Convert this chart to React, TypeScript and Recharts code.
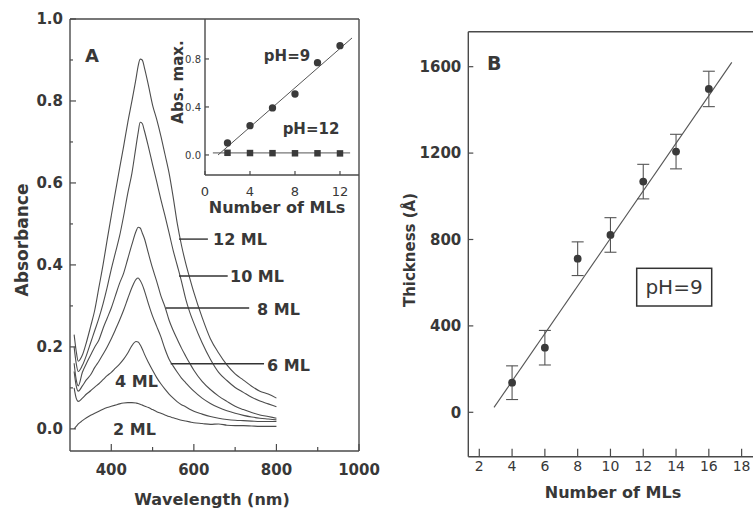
import React from 'react';
import {
  LineChart,
  Line,
  XAxis,
  YAxis,
  ReferenceLine,
  ComposedChart,
  Scatter,
  ErrorBar,
  ZAxis,
} from 'recharts';

// ---------- Panel A: absorbance spectra ----------
const wavelengths = [310, 315, 320, 330, 340, 350, 360, 370, 380, 390, 400, 410, 420, 430, 440, 450, 460, 465, 470, 475, 480, 490, 500, 510, 520, 530, 540, 550, 560, 570, 580, 590, 600, 620, 640, 660, 680, 700, 720, 740, 760, 780, 800];
const abs12 = [0.23, 0.19, 0.165, 0.18, 0.212, 0.25, 0.29, 0.345, 0.4, 0.461, 0.52, 0.578, 0.635, 0.69, 0.748, 0.8, 0.855, 0.885, 0.902, 0.9, 0.882, 0.838, 0.79, 0.755, 0.715, 0.67, 0.624, 0.565, 0.5, 0.448, 0.405, 0.368, 0.333, 0.272, 0.22, 0.185, 0.156, 0.134, 0.119, 0.104, 0.092, 0.085, 0.075];
const abs10 = [0.2, 0.16, 0.14, 0.155, 0.18, 0.21, 0.24, 0.27, 0.305, 0.345, 0.39, 0.43, 0.47, 0.52, 0.575, 0.624, 0.69, 0.722, 0.748, 0.745, 0.728, 0.688, 0.645, 0.603, 0.56, 0.52, 0.478, 0.435, 0.398, 0.36, 0.318, 0.285, 0.258, 0.21, 0.17, 0.138, 0.118, 0.101, 0.089, 0.077, 0.068, 0.061, 0.054];
const abs8 = [0.16, 0.12, 0.105, 0.138, 0.16, 0.18, 0.2, 0.217, 0.245, 0.27, 0.295, 0.325, 0.355, 0.38, 0.415, 0.45, 0.482, 0.492, 0.49, 0.478, 0.465, 0.428, 0.392, 0.36, 0.325, 0.298, 0.265, 0.24, 0.218, 0.197, 0.178, 0.16, 0.143, 0.116, 0.096, 0.08, 0.067, 0.055, 0.047, 0.04, 0.034, 0.03, 0.026];
const abs6 = [0.14, 0.105, 0.092, 0.105, 0.12, 0.132, 0.15, 0.165, 0.182, 0.2, 0.22, 0.242, 0.265, 0.29, 0.318, 0.345, 0.365, 0.368, 0.362, 0.352, 0.338, 0.305, 0.275, 0.25, 0.225, 0.195, 0.17, 0.153, 0.138, 0.124, 0.113, 0.102, 0.092, 0.075, 0.062, 0.052, 0.044, 0.038, 0.033, 0.029, 0.026, 0.024, 0.022];
const abs4 = [0.1, 0.075, 0.067, 0.075, 0.085, 0.093, 0.102, 0.11, 0.12, 0.13, 0.138, 0.148, 0.158, 0.17, 0.185, 0.203, 0.213, 0.212, 0.205, 0.195, 0.183, 0.162, 0.143, 0.125, 0.11, 0.097, 0.085, 0.075, 0.066, 0.059, 0.054, 0.048, 0.043, 0.036, 0.03, 0.026, 0.023, 0.021, 0.02, 0.019, 0.018, 0.018, 0.018];
const abs2 = [0.0, 0.006, 0.012, 0.02, 0.027, 0.033, 0.038, 0.043, 0.048, 0.052, 0.055, 0.058, 0.061, 0.063, 0.064, 0.064, 0.063, 0.062, 0.06, 0.058, 0.056, 0.052, 0.047, 0.042, 0.038, 0.034, 0.03, 0.027, 0.024, 0.021, 0.019, 0.017, 0.015, 0.013, 0.011, 0.012, 0.009, 0.008, 0.008, 0.007, 0.006, 0.006, 0.006];

const wlTicks = [400, 500, 600, 700, 800, 900, 1000];
const absTicks = [0, 0.1, 0.2, 0.3, 0.4, 0.5, 0.6, 0.7, 0.8, 0.9, 1.0];

// leader lines of the curve labels
const leaderLabels = ['12 ML', '10 ML', '8 ML', '6 ML'];
const leaderStart = [564, 564, 532, 544];
const leaderEnd = [634, 682, 734, 770];
const leaderLevel = [0.463, 0.373, 0.295, 0.159];

// ---------- Inset: absorbance maximum vs number of MLs ----------
const insetMLs = [2, 4, 6, 8, 10, 12];
const absMaxPH9 = [0.1, 0.244, 0.392, 0.508, 0.769, 0.911];
const absMaxPH12 = [0.018, 0.016, 0.015, 0.014, 0.014, 0.013];
const fitPH9N = [1.16, 13.07];
const fitPH9V = [0.0, 0.975];
const fitPH12N = [0.7, 12.9];
const fitPH12V = [0.017, 0.017];
const insetXTicks = [0, 4, 8, 12];
const insetYTicks = [0, 0.4, 0.8];

// ---------- Panel B: thickness vs number of MLs ----------
const thickMLs = [4, 6, 8, 10, 12, 14, 16];
const thickness = [137, 299, 711, 821, 1068, 1207, 1497];
const thickErr = [78, 80, 78, 80, 80, 80, 82];
const fitBN = [2.9, 17.4];
const fitBT = [23, 1620];
const bXTicks = [2, 4, 6, 8, 10, 12, 14, 16, 18];
const bYTicks = [0, 400, 800, 1200, 1600];

const spectra = wavelengths.map((wl, i) => ({
  wl,
  ml2: abs2[i],
  ml4: abs4[i],
  ml6: abs6[i],
  ml8: abs8[i],
  ml10: abs10[i],
  ml12: abs12[i],
}));
const specKeys = ['ml2', 'ml4', 'ml6', 'ml8', 'ml10', 'ml12'];

const pH9Data = insetMLs.map((n, i) => ({ n, v: absMaxPH9[i] }));
const pH12Data = insetMLs.map((n, i) => ({ n, v: absMaxPH12[i] }));
const fit9Data = fitPH9N.map((n, i) => ({ n, v: fitPH9V[i] }));
const fit12Data = fitPH12N.map((n, i) => ({ n, v: fitPH12V[i] }));

const thickData = thickMLs.map((n, i) => ({ n, t: thickness[i], err: thickErr[i] }));
const fitBData = fitBN.map((n, i) => ({ n, t: fitBT[i] }));

const FONT = "'DejaVu Sans', sans-serif";
const INK = '#383838';
const STROKE = '#4a4a4a';

const boldText = { fontFamily: FONT, fontWeight: 700, fill: INK } as const;
const regText = { fontFamily: FONT, fontWeight: 400, fill: INK } as const;

function leftTick(
  isMajor: (v: number) => boolean,
  fmt: (v: number) => string,
  majorLen: number,
  minorLen: number,
  gap: number,
  style: any,
  size: number
) {
  return (p: any) => {
    const { x, y, payload } = p;
    const v = payload.value;
    const maj = isMajor(v);
    return (
      <g>
        <line x1={x} x2={x + (maj ? majorLen : minorLen)} y1={y} y2={y} stroke={STROKE} strokeWidth={1.2} />
        {maj ? (
          <text x={x - gap} y={y} dy="0.36em" textAnchor="end" fontSize={size} {...style}>
            {fmt(v)}
          </text>
        ) : null}
      </g>
    );
  };
}

function bottomTick(
  isMajor: (v: number) => boolean,
  fmt: (v: number) => string,
  majorLen: number,
  minorLen: number,
  baseline: number,
  style: any,
  size: number
) {
  return (p: any) => {
    const { x, y, payload } = p;
    const v = payload.value;
    const maj = isMajor(v);
    return (
      <g>
        <line x1={x} x2={x} y1={y} y2={y - (maj ? majorLen : minorLen)} stroke={STROKE} strokeWidth={1.2} />
        {maj ? (
          <text x={x} y={y + baseline} textAnchor="middle" fontSize={size} {...style}>
            {fmt(v)}
          </text>
        ) : null}
      </g>
    );
  };
}

const axisLine = { stroke: STROKE, strokeWidth: 1.4 };

function PanelA() {
  return (
    <LineChart width={380} height={510} data={spectra} margin={{ top: 19, right: 21, bottom: 29, left: 30 }}>
      <XAxis
        type="number"
        dataKey="wl"
        domain={[300, 1000]}
        ticks={wlTicks}
        interval={0}
        allowDataOverflow
        height={30}
        tickLine={false}
        tickSize={0}
        tickMargin={0}
        axisLine={axisLine}
        tick={bottomTick((v) => v % 200 === 0, (v) => String(v), 7, 4, 24, boldText, 15)}
      />
      <YAxis
        type="number"
        domain={[-0.054, 1.0]}
        ticks={absTicks}
        interval={0}
        allowDataOverflow
        width={40}
        tickLine={false}
        tickSize={0}
        tickMargin={0}
        axisLine={axisLine}
        tick={leftTick((v) => Math.round(v * 10) % 2 === 0, (v) => v.toFixed(1), 6, 3, 7, boldText, 15)}
      />
      <ReferenceLine y={1.0} stroke={STROKE} strokeWidth={1.4} />
      <ReferenceLine x={1000} stroke={STROKE} strokeWidth={1.4} />
      {specKeys.map((k) => (
        <Line
          key={k}
          dataKey={k}
          type="monotone"
          stroke="#4d4d4d"
          strokeWidth={1.1}
          dot={false}
          isAnimationActive={false}
        />
      ))}
      {leaderLabels.map((lab, i) => (
        <ReferenceLine
          key={lab}
          segment={[
            { x: leaderStart[i], y: leaderLevel[i] },
            { x: leaderEnd[i], y: leaderLevel[i] },
          ]}
          stroke="#333"
          strokeWidth={1.4}
        />
      ))}
    </LineChart>
  );
}

function Inset() {
  return (
    <ComposedChart width={215} height={230} margin={{ top: 19, right: 6, bottom: 25, left: 25 }}>
      <XAxis
        type="number"
        dataKey="n"
        domain={[0, 13.69]}
        ticks={insetXTicks}
        interval={0}
        allowDataOverflow
        height={30}
        tickLine={false}
        tickSize={0}
        tickMargin={0}
        axisLine={axisLine}
        tick={bottomTick(() => true, (v) => String(v), 4, 4, 21, regText, 13)}
      />
      <YAxis
        type="number"
        dataKey="v"
        domain={[-0.167, 1.133]}
        ticks={insetYTicks}
        interval={0}
        allowDataOverflow
        width={30}
        tickLine={false}
        tickSize={0}
        tickMargin={0}
        axisLine={axisLine}
        tick={leftTick(() => true, (v) => v.toFixed(1), 4, 4, 4, regText, 10)}
      />
      <ZAxis range={[42, 42]} />
      <Line data={fit9Data} dataKey="v" type="linear" stroke="#555" strokeWidth={1} dot={false} isAnimationActive={false} />
      <Line data={fit12Data} dataKey="v" type="linear" stroke="#555" strokeWidth={1} dot={false} isAnimationActive={false} />
      <Scatter data={pH9Data} dataKey="v" shape="circle" fill="#3a3a3a" isAnimationActive={false} />
      <Scatter data={pH12Data} dataKey="v" shape="square" fill="#3a3a3a" isAnimationActive={false} />
    </ComposedChart>
  );
}

function PanelB() {
  return (
    <ComposedChart width={420} height={510} margin={{ top: 31.7, right: 10, bottom: 23.3, left: 48.3 }}>
      <XAxis
        type="number"
        dataKey="n"
        domain={[1.33, 20.95]}
        ticks={bXTicks}
        interval={0}
        allowDataOverflow
        height={30}
        tickLine={false}
        tickSize={0}
        tickMargin={0}
        axisLine={axisLine}
        tick={bottomTick(() => true, (v) => String(v), 8, 8, 14, regText, 14)}
      />
      <YAxis
        type="number"
        dataKey="t"
        domain={[-205.6, 1762]}
        ticks={bYTicks}
        interval={0}
        allowDataOverflow
        width={40}
        tickLine={false}
        tickSize={0}
        tickMargin={0}
        axisLine={axisLine}
        tick={leftTick(() => true, (v) => String(v), 5, 5, 7, boldText, 15)}
      />
      <ZAxis range={[48, 48]} />
      <ReferenceLine y={1762} stroke={STROKE} strokeWidth={1.4} />
      <Line data={fitBData} dataKey="t" type="linear" stroke="#555" strokeWidth={1.1} dot={false} isAnimationActive={false} />
      <Scatter data={thickData} dataKey="t" shape="circle" fill="#3a3a3a" isAnimationActive={false}>
        <ErrorBar dataKey="err" direction="y" width={6} stroke="#555" strokeWidth={1.1} />
      </Scatter>
    </ComposedChart>
  );
}

function Annotations() {
  return (
    <svg width={753} height={510} style={{ position: 'absolute', left: 0, top: 0, pointerEvents: 'none' }}>
      {/* Panel A */}
      <text x={22} y={240} transform="rotate(-90 22 240)" textAnchor="middle" dy="0.35em" fontSize={17} {...boldText}>
        Absorbance
      </text>
      <text x={212} y={505} textAnchor="middle" fontSize={16} {...boldText}>
        Wavelength (nm)
      </text>
      <text x={85} y={62} fontSize={18} {...boldText}>
        A
      </text>
      <text x={213} y={245} fontSize={16} {...boldText}>12 ML</text>
      <text x={230} y={282} fontSize={16} {...boldText}>10 ML</text>
      <text x={257} y={315} fontSize={16} {...boldText}>8 ML</text>
      <text x={267} y={371} fontSize={16} {...boldText}>6 ML</text>
      <text x={115} y={387} fontSize={16} {...boldText}>4 ML</text>
      <text x={113} y={435} fontSize={16} {...boldText}>2 ML</text>
      {/* Inset */}
      <text x={178} y={82} transform="rotate(-90 178 82)" textAnchor="middle" dy="0.35em" fontSize={15} {...boldText}>
        Abs. max.
      </text>
      <text x={277} y={213} textAnchor="middle" fontSize={16} {...boldText}>
        Number of MLs
      </text>
      <text x={287} y={61} textAnchor="middle" fontSize={15} {...boldText}>pH=9</text>
      <text x={311} y={134} textAnchor="middle" fontSize={15} {...boldText}>pH=12</text>
      {/* Panel B */}
      <text x={410} y={250} transform="rotate(-90 410 250)" textAnchor="middle" dy="0.35em" fontSize={15} {...boldText}>
        Thickness (Å)
      </text>
      <text x={613} y={498} textAnchor="middle" fontSize={16} {...boldText}>
        Number of MLs
      </text>
      <text x={487} y={70} fontSize={19} {...boldText}>
        B
      </text>
      <rect x={636.7} y={268.3} width={75} height={37.7} fill="none" stroke="#333" strokeWidth={1.5} />
      <text x={674} y={287} textAnchor="middle" dy="0.36em" fontSize={20} {...regText}>
        pH=9
      </text>
    </svg>
  );
}

export default function App() {
  return (
    <div
      style={{
        position: 'absolute',
        left: 0,
        top: 0,
        width: 753,
        height: 510,
        overflow: 'hidden',
        background: '#fff',
      }}
    >
      <div style={{ position: 'absolute', left: 0, top: 0 }}>
        <PanelA />
      </div>
      <div style={{ position: 'absolute', left: 150, top: 0 }}>
        <Inset />
      </div>
      <div style={{ position: 'absolute', left: 380, top: 0 }}>
        <PanelB />
      </div>
      <Annotations />
    </div>
  );
}
